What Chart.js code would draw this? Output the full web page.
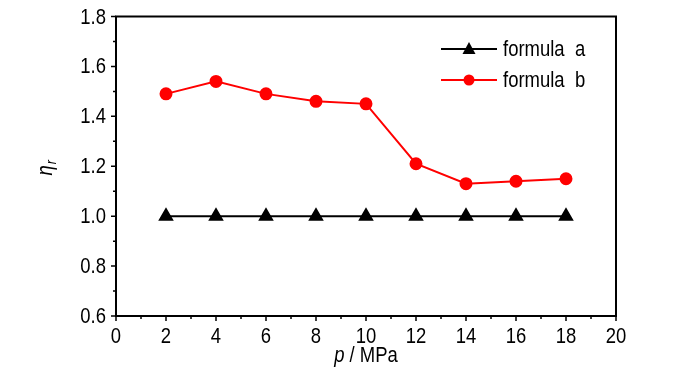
<!DOCTYPE html>
<html>
<head>
<meta charset="utf-8">
<script src="https://cdn.jsdelivr.net/npm/chart.js@4/dist/chart.umd.min.js"></script>
<style>
  html, body { margin: 0; padding: 0; background: #fff; }
  #wrap { width: 700px; height: 374px; }
</style>
</head>
<body>
<div id="wrap"><canvas id="etaChart"></canvas></div>
<script>
// values
const pressure = [2, 4, 6, 8, 10, 12, 14, 16, 18];
const formulaA = [1.0, 1.0, 1.0, 1.0, 1.0, 1.0, 1.0, 1.0, 1.0];
const formulaB = [1.49, 1.54, 1.49, 1.46, 1.45, 1.21, 1.13, 1.14, 1.15];
const seriesNames = ['formula  a', 'formula  b'];

const FONT = "'Liberation Sans Narrow', 'Arial Narrow', 'Liberation Sans', Arial, sans-serif";
const SQUEEZE = 0.84; // the original uses a narrow face

const toPoints = (ys) => pressure.map((x, i) => ({ x: x, y: ys[i] }));

// draw text squeezed horizontally, anchored at (x, y)
function narrowText(ctx, str, x, y, align) {
  const w = ctx.measureText(str).width * SQUEEZE;
  let x0 = x;
  if (align === 'center') x0 = x - w / 2;
  else if (align === 'right') x0 = x - w;
  ctx.save();
  ctx.translate(x0, y);
  ctx.scale(SQUEEZE, 1);
  ctx.textAlign = 'left';
  ctx.fillText(str, 0, 0);
  ctx.restore();
  return w;
}

// frame, outward major/minor ticks, tick labels, axis titles and the legend
const decorations = {
  id: 'decorations',
  afterDraw(chart) {
    const { ctx, chartArea: a, scales } = chart;
    const xs = scales.x, ys = scales.y;
    ctx.save();
    ctx.strokeStyle = '#000';
    ctx.lineWidth = 2;
    ctx.strokeRect(a.left, a.top, a.right - a.left, a.bottom - a.top);

    ctx.lineWidth = 1.5;
    ctx.beginPath();
    for (let v = 0; v <= 20; v += 1) {
      const px = xs.getPixelForValue(v);
      ctx.moveTo(px, a.bottom);
      ctx.lineTo(px, a.bottom + (v % 2 === 0 ? 5 : 3));
    }
    for (let k = 6; k <= 18; k += 1) {
      const py = ys.getPixelForValue(k / 10);
      ctx.moveTo(a.left, py);
      ctx.lineTo(a.left - (k % 2 === 0 ? 5 : 3), py);
    }
    ctx.stroke();

    // tick labels from the library's scales
    ctx.fillStyle = '#000';
    ctx.font = '22px ' + FONT;
    ctx.textBaseline = 'middle';
    xs.ticks.forEach((t, i) => {
      narrowText(ctx, String(t.value), xs.getPixelForTick(i), 337, 'center');
    });
    ys.ticks.forEach((t, i) => {
      narrowText(ctx, t.value.toFixed(1), a.left - 10, ys.getPixelForTick(i) + 1, 'right');
    });

    // x title: p / MPa
    ctx.textBaseline = 'alphabetic';
    ctx.font = 'italic 22px ' + FONT;
    const w1 = ctx.measureText('p').width * SQUEEZE;
    ctx.font = '22px ' + FONT;
    const w2 = ctx.measureText(' / MPa').width * SQUEEZE;
    const tx = (a.left + a.right) / 2 - (w1 + w2) / 2;
    ctx.font = 'italic 22px ' + FONT;
    narrowText(ctx, 'p', tx, 362, 'left');
    ctx.font = '22px ' + FONT;
    narrowText(ctx, ' / MPa', tx + w1, 362, 'left');

    // y title: eta_r (rotated)
    ctx.save();
    ctx.translate(52, (a.top + a.bottom) / 2 + 2);
    ctx.rotate(-Math.PI / 2);
    ctx.font = 'italic 22px ' + FONT;
    const we = ctx.measureText('\u03B7').width * SQUEEZE;
    ctx.font = 'italic 15px ' + FONT;
    const wr = ctx.measureText('r').width * SQUEEZE;
    const sx = -(we + wr) / 2;
    ctx.font = 'italic 22px ' + FONT;
    narrowText(ctx, '\u03B7', sx, 0, 'left');
    ctx.font = 'italic 15px ' + FONT;
    narrowText(ctx, 'r', sx + we + 1, 4, 'left');
    ctx.restore();

    // legend
    const rowsY = [49, 80];
    chart.data.datasets.forEach((ds, i) => {
      const ly = rowsY[i];
      ctx.strokeStyle = ds.borderColor;
      ctx.lineWidth = ds.borderWidth;
      ctx.beginPath();
      ctx.moveTo(441, ly);
      ctx.lineTo(497, ly);
      ctx.stroke();
      ctx.fillStyle = ds.pointBackgroundColor;
      if (ds.pointStyle === 'triangle') {
        ctx.beginPath();
        ctx.moveTo(469, ly - 7);
        ctx.lineTo(475.5, ly + 5);
        ctx.lineTo(462.5, ly + 5);
        ctx.closePath();
        ctx.fill();
      } else {
        ctx.beginPath();
        ctx.arc(469, ly, 5.5, 0, Math.PI * 2);
        ctx.fill();
      }
      ctx.fillStyle = '#000';
      ctx.font = '22px ' + FONT;
      ctx.textBaseline = 'middle';
      narrowText(ctx, ds.label, 503, ly + 1, 'left');
    });
    ctx.restore();
  }
};

new Chart(document.getElementById('etaChart').getContext('2d'), {
  type: 'line',
  data: {
    datasets: [
      {
        label: seriesNames[0],
        data: toPoints(formulaA),
        borderColor: '#000',
        backgroundColor: '#000',
        pointBackgroundColor: '#000',
        pointBorderColor: '#000',
        borderWidth: 2,
        pointStyle: 'triangle',
        pointRadius: 7,
        pointHoverRadius: 7,
        tension: 0
      },
      {
        label: seriesNames[1],
        data: toPoints(formulaB),
        borderColor: '#ff0000',
        backgroundColor: '#ff0000',
        pointBackgroundColor: '#ff0000',
        pointBorderColor: '#ff0000',
        borderWidth: 2,
        pointStyle: 'circle',
        pointRadius: 5.5,
        pointHoverRadius: 5.5,
        tension: 0
      }
    ]
  },
  options: {
    responsive: true,
    maintainAspectRatio: false,
    animation: false,
    events: [],
    layout: { padding: { top: 16.5, right: 84, left: 0, bottom: 0 } },
    plugins: {
      legend: { display: false },
      tooltip: { enabled: false }
    },
    scales: {
      x: {
        type: 'linear',
        min: 0,
        max: 20,
        grid: { display: false, drawTicks: false },
        border: { display: false },
        ticks: { display: false, stepSize: 2 },
        afterFit(scale) {
          scale.height = 58;
          scale.paddingLeft = 0;
          scale.paddingRight = 0;
        }
      },
      y: {
        min: 0.6,
        max: 1.8,
        grid: { display: false, drawTicks: false },
        border: { display: false },
        ticks: { display: false, stepSize: 0.2 },
        afterFit(scale) {
          scale.width = 116;
          scale.paddingTop = 0;
          scale.paddingBottom = 0;
        }
      }
    }
  },
  plugins: [decorations]
});
</script>
</body>
</html>
